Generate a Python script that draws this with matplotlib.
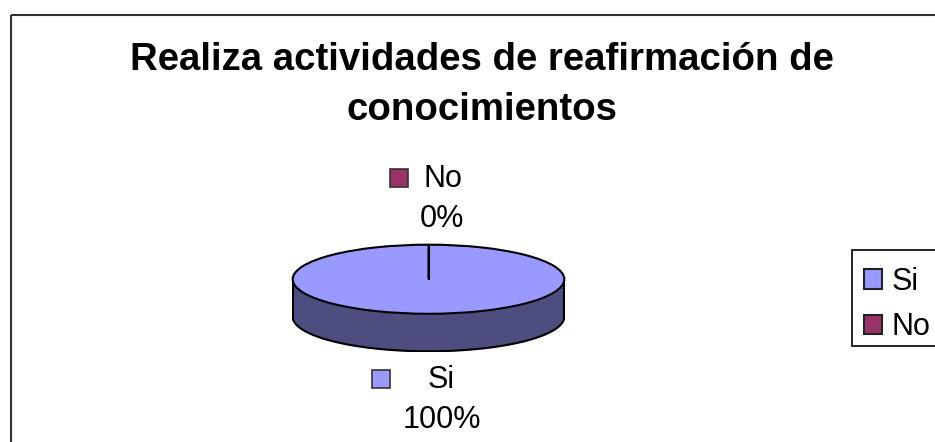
import numpy as np
import matplotlib
matplotlib.use('Agg')
import matplotlib.pyplot as plt
from matplotlib.patches import Patch, Rectangle

plt.rcParams['font.family'] = ['Liberation Sans', 'DejaVu Sans']

title = 'Realiza actividades de reafirmación de\nconocimientos'
categories = ['Si', 'No']
values = [100, 0]
colors = ['#9999FF', '#993366']
side_color = '#4D4D80'

W, H = 935, 442
fig = plt.figure(figsize=(W / 100, H / 100), dpi=100)

# overlay in pixel coords for the layout (frame, title, labels)
page = fig.add_axes([0, 0, 1, 1])
page.set_xlim(0, W)
page.set_ylim(H, 0)
page.axis('off')

page.plot([11, 11], [H + 5, 15], color='#333333', lw=1.5, solid_capstyle='butt')
page.plot([11, W + 5], [15, 15], color='#333333', lw=1.5, solid_capstyle='butt')
page.text(482, 85, title, ha='center', va='center', fontsize=27.6, fontweight='bold',
          linespacing=1.48, color='black')

# labels with their keys: (key x, key y, name x, name y, pct y)
label_pos = {'Si': (381, 379, 441, 380, 420), 'No': (399, 178, 443, 179, 219)}
total = sum(values)
for cat, val, col in zip(categories, values, colors):
    kx, ky, nx, ny, py = label_pos[cat]
    page.plot([kx], [ky], marker='s', ms=12.5, mfc=col, mec='#333333', mew=1.2, ls='none')
    page.text(nx, ny, cat, ha='center', va='center', fontsize=22)
    page.text(442, py, '%d%%' % round(val / total * 100), ha='center', va='center', fontsize=22)

# pie: top ellipse radius 136x35 px, side wall 38 px deep
depth = 38 / 35
pie_ax = fig.add_axes([292 / W, 1 - 352 / H, 273 / W, 108 / H])
wedges, _ = pie_ax.pie(values, colors=colors, startangle=90, counterclock=False, radius=1,
                       wedgeprops={'edgecolor': 'black', 'linewidth': 1.5})
pie_ax.set_aspect('auto')
pie_ax.set_xlim(-1.005, 1.005)
pie_ax.set_ylim(-1 - depth - 0.02, 1.02)

t = np.radians(np.linspace(180, 360, 200))
wall_top = np.sin(t)
pie_ax.fill_between(np.cos(t), wall_top, wall_top - depth, color=side_color, zorder=0.5, lw=0)
pie_ax.plot(np.cos(t), wall_top - depth, color='black', lw=1.5, zorder=0.6)
pie_ax.plot([-1, -1], [0, -depth], color='black', lw=1.5, zorder=0.6)
pie_ax.plot([1, 1], [0, -depth], color='black', lw=1.5, zorder=0.6)

# slice edge at the start angle (the 0% slice collapses to this line)
pie_ax.plot([0, 0], [0, 1], color='black', lw=1.5, zorder=3)

# legend box is drawn apart, its padding is not even top and bottom
page.add_patch(Rectangle((852, 250), 100, 96, facecolor='white', edgecolor='black', lw=1.2))
handles = [Patch(facecolor=c, edgecolor='#222222', linewidth=1.5, label=n)
           for c, n in zip(colors, categories)]
leg = page.legend(handles=handles, loc='upper left', bbox_to_anchor=(851 / W, 1 - 254 / H),
                  bbox_transform=fig.transFigure, fontsize=22, frameon=False,
                  borderaxespad=0, borderpad=0.42,
                  handlelength=0.6, handleheight=0.6, handletextpad=0.3, labelspacing=0.5)

fig.savefig('out.png', dpi=100)
